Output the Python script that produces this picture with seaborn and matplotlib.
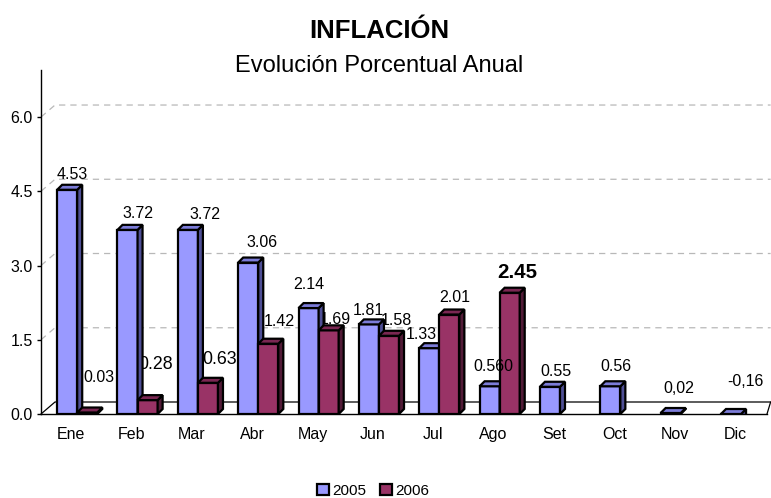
import numpy as np
import pandas as pd
import seaborn as sns
import matplotlib.pyplot as plt
from matplotlib.patches import Polygon, Patch

# datos
meses = ["Ene", "Feb", "Mar", "Abr", "May", "Jun", "Jul", "Ago", "Set", "Oct", "Nov", "Dic"]
anios = ["2005", "2006"]
inflacion_2005 = [4.53, 3.72, 3.72, 3.06, 2.14, 1.81, 1.33, 0.56, 0.55, 0.56, 0.02, -0.16]
inflacion_2006 = [0.03, 0.28, 0.63, 1.42, 1.69, 1.58, 2.01, 2.45]
etiquetas_2005 = ["4.53", "3.72", "3.72", "3.06", "2.14", "1.81", "1.33", "0.560", "0.55", "0.56", "0,02", "-0,16"]
etiquetas_2006 = ["0.03", "0.28", "0.63", "1.42", "1.69", "1.58", "2.01", "2.45"]

filas = [(m, "2005", v) for m, v in zip(meses, inflacion_2005)]
filas += [(m, "2006", v) for m, v in zip(meses, inflacion_2006)]
df = pd.DataFrame(filas, columns=["mes", "anio", "valor"])
etiquetas = {"2005": etiquetas_2005, "2006": etiquetas_2006}

# estilo
colores_frente = {"2005": "#9999FF", "2006": "#993366"}
colores_tapa = {"2005": "#7C7CD8", "2006": "#7A2752"}
colores_lado = {"2005": "#4F4F96", "2006": "#521B37"}

# desplazamiento de cada etiqueta (pixeles) respecto a la cima de la barra
despl_2005 = [(3, 6), (8, 7), (15, 6), (11, 11), (-2, 14), (-3, 4), (-10, 4),
              (1, 10), (3, 6), (3, 10), (6, 15), (12, 23)]
despl_2006 = [(9, 26), (5, 26), (9, 14), (9, 13), (4, 1), (5, 6), (3, 8), (5, 10)]
despl = {"2005": despl_2005, "2006": despl_2006}
tam_2006 = [11.5, 12.8, 12.8, 11.5, 11.5, 11.5, 11.5, 14.8]

sns.set_style("white")
plt.rcParams["font.family"] = ["Liberation Sans", "DejaVu Sans"]
plt.rcParams["text.color"] = "black"
plt.rcParams["xtick.color"] = "black"
plt.rcParams["ytick.color"] = "black"

fig = plt.figure(figsize=(7.71, 4.98), dpi=100)
ax = fig.add_axes([41 / 771, 84 / 498, 726 / 771, 344 / 498])

sns.barplot(data=df, x="mes", y="valor", hue="anio", order=meses, hue_order=anios,
            palette=colores_frente, width=0.665, edgecolor="black", linewidth=1.6,
            saturation=1, errorbar=None, legend=False, ax=ax)

ax.set_xlim(-0.5, 11.53)
ax.set_ylim(0, 6.95)

# efecto 3D
px_x = 60.35
px_y = 49.5
prof_x = 5 / px_x
prof_y = 5 / px_y
corrimiento = 0.1

for k, anio in enumerate(anios):
    for barra in ax.containers[k]:
        i = int(round(barra.get_x() + barra.get_width() / 2))
        barra.set_x(barra.get_x() + corrimiento)
        barra.set_zorder(2 + k)
        x0 = barra.get_x()
        x1 = x0 + barra.get_width()
        y0 = barra.get_y()
        h = barra.get_height()
        arriba = max(y0, y0 + h)
        abajo = min(y0, y0 + h)
        tapa = Polygon([(x0, arriba), (x1, arriba), (x1 + prof_x, arriba + prof_y), (x0 + prof_x, arriba + prof_y)],
                       closed=True, fc=colores_tapa[anio], ec="black", lw=1.6, zorder=2 + k)
        lado = Polygon([(x1, abajo), (x1, arriba), (x1 + prof_x, arriba + prof_y), (x1 + prof_x, abajo + prof_y)],
                       closed=True, fc=colores_lado[anio], ec="black", lw=1.6, zorder=2 + k)
        ax.add_patch(lado)
        ax.add_patch(tapa)

        dx, dy = despl[anio][i]
        if anio == "2006":
            tam = tam_2006[i]
            peso = "bold" if i == 7 else "normal"
            z = 1.8  # quedan detras de las barras 2005, como en el original
        else:
            tam = 11.5
            peso = "normal"
            z = 6
        ax.annotate(etiquetas[anio][i], ((x0 + x1) / 2 + prof_x / 2, arriba + prof_y),
                    xytext=(dx, dy), textcoords="offset pixels", ha="center", va="baseline",
                    fontsize=tam, fontweight=peso, zorder=z)

# pared del fondo y lineas de division
pared_x = 14 / px_x
pared_y = 12 / px_y
x_fin = 11.59
for v in [1.5, 3.0, 4.5, 6.0]:
    ax.plot([-0.5, -0.5 + pared_x, x_fin], [v, v + pared_y, v + pared_y],
            ls=(0, (5, 4)), color="#b8b8b8", lw=0.9, zorder=0.5, clip_on=False)
ax.plot([-0.5, -0.5 + pared_x, x_fin], [0, pared_y, pared_y], color="black", lw=0.9, zorder=1, clip_on=False)
ax.plot([11.53, x_fin], [0, pared_y], color="black", lw=0.9, zorder=1, clip_on=False)

# ejes
ax.set_yticks([0, 1.5, 3.0, 4.5, 6.0])
ax.set_yticklabels([f"{v:.1f}" for v in [0, 1.5, 3.0, 4.5, 6.0]])
ax.set_xticks(range(len(meses)))
ax.set_xticklabels(meses)
ax.set_xticks(np.arange(-0.5, 12, 1), minor=True)
ax.tick_params(axis="x", which="major", length=0, pad=9, labelsize=11.5)
ax.tick_params(axis="x", which="minor", length=5.5, width=1, direction="out", color="black")
ax.tick_params(axis="y", length=3, width=1, pad=3, labelsize=11.5, direction="out", color="black", left=True)
ax.set_xlabel("")
ax.set_ylabel("")
for lado_eje in ["top", "right"]:
    ax.spines[lado_eje].set_visible(False)
for lado_eje in ["left", "bottom"]:
    ax.spines[lado_eje].set_color("black")
    ax.spines[lado_eje].set_linewidth(1)

# titulos
fig.text(379 / 771, 1 - 38 / 498, "INFLACIÓN", ha="center", va="baseline", fontsize=18.5, fontweight="bold")
fig.text(379 / 771, 1 - 72 / 498, "Evolución Porcentual Anual", ha="center", va="baseline", fontsize=17)

# leyenda
manijas = [Patch(fc=colores_frente[a], ec="black", lw=1.6, label=a) for a in anios]
fig.legend(handles=manijas, loc="center", bbox_to_anchor=(373.5 / 771, 1 - 491 / 498), ncol=2,
           frameon=False, fontsize=11, handlelength=0.75, handleheight=0.75,
           handletextpad=0.25, columnspacing=0.9, borderaxespad=0)

fig.savefig("out.png", dpi=100)
